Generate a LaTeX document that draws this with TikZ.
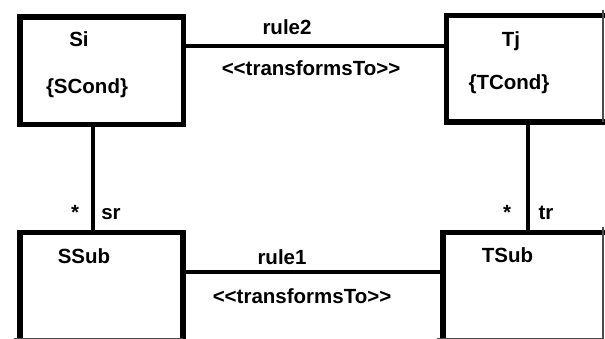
\documentclass[tikz,border=0pt]{standalone}
\usepackage{fontspec}
\setmainfont{Liberation Sans}
\begin{document}
\begin{tikzpicture}[x=1pt,y=-1pt,
  box/.style={draw=black,line width=5.5pt,fill=white,rectangle,inner sep=0pt,anchor=north west},
  conn/.style={draw=black,line width=4.2pt},
  edge/.style={draw=black!70,line width=1.2pt},
  lbl/.style={font=\fontsize{20.5}{23}\selectfont\bfseries,anchor=base,inner sep=0pt}]
\useasboundingbox (0,0) rectangle (605,339);
\fill[white] (0,0) rectangle (605,339);
\begin{scope}
\clip (0,0) rectangle (605,339);
% boxes
\node[box,minimum width=163.5pt,minimum height=107.5pt] (Si) at (17,14.5) {};
\node[box,minimum width=170pt,minimum height=106.5pt] (Tj) at (443.5,13) {};
\node[box,minimum width=163pt,minimum height=120pt] (SSub) at (17,230) {};
\node[box,minimum width=173pt,minimum height=120pt] (TSub) at (440,230) {};
% connectors
\draw[conn] (Si.east |- 0,46) -- (Tj.west |- 0,46);
\draw[conn] (SSub.east |- 0,272) -- (TSub.west |- 0,272);
\draw[conn] (Si.south -| 93,0) -- (SSub.north -| 93,0);
\draw[conn] (Tj.south -| 528,0) -- (TSub.north -| 528,0);
% cropped edges
\draw[edge] (603,10.5) -- (603,122.5);
\draw[edge] (603,227.5) -- (603,339);
\draw[edge] (14,338.2) -- (183,338.2);
\draw[edge] (437,338.2) -- (603,338.2);
\end{scope}
% labels
\node[lbl] (tSi) at (79,47) {Si};
\node[lbl] (tSC) at (87,94) {\{SCond\}};
\node[lbl] (tTj) at (511,47) {Tj};
\node[lbl] (tTC) at (509,90) {\{TCond\}};
\node[lbl] (tSS) at (84,263) {SSub};
\node[lbl] (tTS) at (507.5,262) {TSub};
\node[lbl] (r2) at (287,35) {rule2};
\node[lbl] (tt2) at (311,76) {<{}<transformsTo>{}>};
\node[lbl] (r1) at (282,265) {rule1};
\node[lbl] (tt1) at (302,303) {<{}<transformsTo>{}>};
\node[lbl] (s1) at (75,220) {*};
\node[lbl] (sr) at (111,220) {sr};
\node[lbl] (s2) at (507,220) {*};
\node[lbl] (tr) at (546,220) {tr};
\end{tikzpicture}
\end{document}
